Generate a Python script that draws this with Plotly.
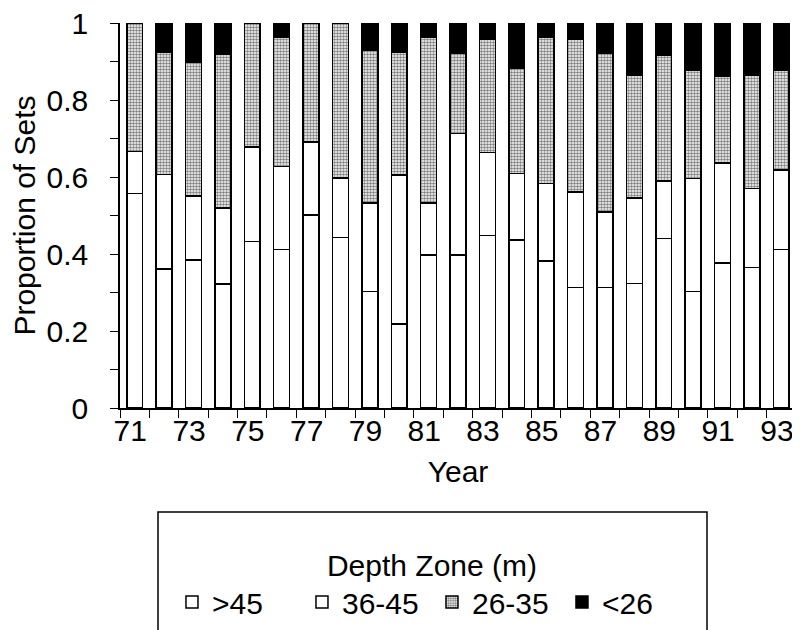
import plotly.graph_objects as go

years = list(range(71, 94))
deep_gt45 = [0.557, 0.361, 0.385, 0.322, 0.432, 0.412, 0.501, 0.443, 0.302, 0.218, 0.397, 0.397,
             0.448, 0.436, 0.382, 0.313, 0.313, 0.324, 0.440, 0.302, 0.376, 0.365, 0.412]
zone_36_45 = [0.109, 0.246, 0.166, 0.197, 0.246, 0.215, 0.190, 0.155, 0.231, 0.387, 0.136, 0.316,
              0.215, 0.173, 0.201, 0.248, 0.196, 0.222, 0.149, 0.294, 0.261, 0.205, 0.206]
zone_26_35 = [0.334, 0.318, 0.346, 0.400, 0.322, 0.335, 0.309, 0.402, 0.396, 0.318, 0.429, 0.209,
              0.294, 0.273, 0.379, 0.398, 0.413, 0.318, 0.327, 0.280, 0.226, 0.294, 0.258]
shallow_lt26 = [0.0, 0.075, 0.103, 0.081, 0.0, 0.038, 0.0, 0.0, 0.071, 0.077, 0.038, 0.078,
                0.043, 0.118, 0.038, 0.041, 0.078, 0.136, 0.084, 0.124, 0.137, 0.136, 0.124]
series_names = [">45", "36-45", "26-35", "<26"]
label_years = list(range(71, 94, 2))
y_tick_vals = [0, 0.2, 0.4, 0.6, 0.8, 1]
y_tick_text = ["0", "0.2", "0.4", "0.6", "0.8", "1"]

FONT = "Liberation Sans, Arial, Helvetica, sans-serif"
line = dict(color="black", width=1.5)

fig = go.Figure()
series = [deep_gt45, zone_36_45, zone_26_35, shallow_lt26]
for name, vals in zip(series_names, series):
    if name == "26-35":
        marker = dict(color="white", line=line,
                      pattern=dict(shape=".", fgcolor="black", bgcolor="white",
                                   size=3, solidity=0.55, fillmode="overlay"))
    elif name == "<26":
        marker = dict(color="black", line=line)
    else:
        marker = dict(color="white", line=line)
    fig.add_trace(go.Bar(x=years, y=vals, name=name, marker=marker, width=0.54))

# page body has an 8px margin; plot area placed so it lands at x 120-796, y 23-408 on screen
fig.update_layout(
    barmode="stack",
    width=800, height=630,
    margin=dict(l=112, r=12, t=15, b=230, pad=0, autoexpand=False),
    plot_bgcolor="white", paper_bgcolor="white",
    font=dict(family=FONT, size=30, color="black"),
    xaxis=dict(
        range=[70.5, 93.5], tickmode="array", tickvals=[y - 0.15 for y in label_years],
        ticktext=[str(y) for y in label_years], ticks="", automargin=False,
        ticklabeloverflow="allow",
        showline=True, linecolor="black", linewidth=1.5, showgrid=False, zeroline=False,
        minor=dict(tickmode="linear", tick0=70.5, dtick=1, ticks="outside",
                   ticklen=8, tickcolor="black", tickwidth=1.2, showgrid=False),
        tickfont=dict(size=30), ticklabelstandoff=-5,
        title=dict(text="Year", font=dict(size=30), standoff=15),
    ),
    yaxis=dict(
        range=[0, 1], tickmode="array", tickvals=y_tick_vals, ticktext=y_tick_text,
        ticks="outside", ticklen=8, tickcolor="black", tickwidth=1.2, automargin=False,
        ticklabeloverflow="allow",
        showline=True, linecolor="black", linewidth=1.5, showgrid=False, zeroline=False,
        minor=dict(tickmode="linear", tick0=0, dtick=0.1, ticks="outside",
                   ticklen=8, tickcolor="black", tickwidth=1.2, showgrid=False),
        tickfont=dict(size=30), ticklabelstandoff=16,
        title=dict(text="Proportion of Sets", font=dict(size=30), standoff=10),
    ),
    xaxis2=dict(overlaying="x", anchor="y", range=[70.5, 93.5], tickmode="linear",
                tick0=70.5, dtick=1, ticks="inside", ticklen=8, tickcolor="black",
                tickwidth=1.2, showticklabels=False, showgrid=False, zeroline=False,
                showline=False, side="bottom"),
    yaxis2=dict(overlaying="y", anchor="x", range=[0, 1], tickmode="linear",
                tick0=0, dtick=0.1, ticks="inside", ticklen=8, tickcolor="black",
                tickwidth=1.2, showticklabels=False, showgrid=False, zeroline=False,
                showline=False, side="left"),
    legend=dict(
        orientation="h", x=0.4615, xanchor="center", y=-0.335, yanchor="top",
        traceorder="normal",
        title=dict(text="Depth Zone (m)", side="top center", font=dict(size=30)),
        font=dict(size=30), borderwidth=0, bgcolor="rgba(0,0,0,0)",
        itemwidth=30, entrywidth=85, entrywidthmode="pixels",
    ),
    shapes=[dict(type="rect", xref="paper", yref="paper",
                 x0=(150 - 112) / 676, x1=(699 - 112) / 676,
                 y0=(400 - 504) / 385, y1=(400 - 700) / 385,
                 line=dict(color="black", width=1.5), fillcolor="rgba(0,0,0,0)",
                 layer="below")],
    showlegend=True,
)

fig.write_html("out.html")
